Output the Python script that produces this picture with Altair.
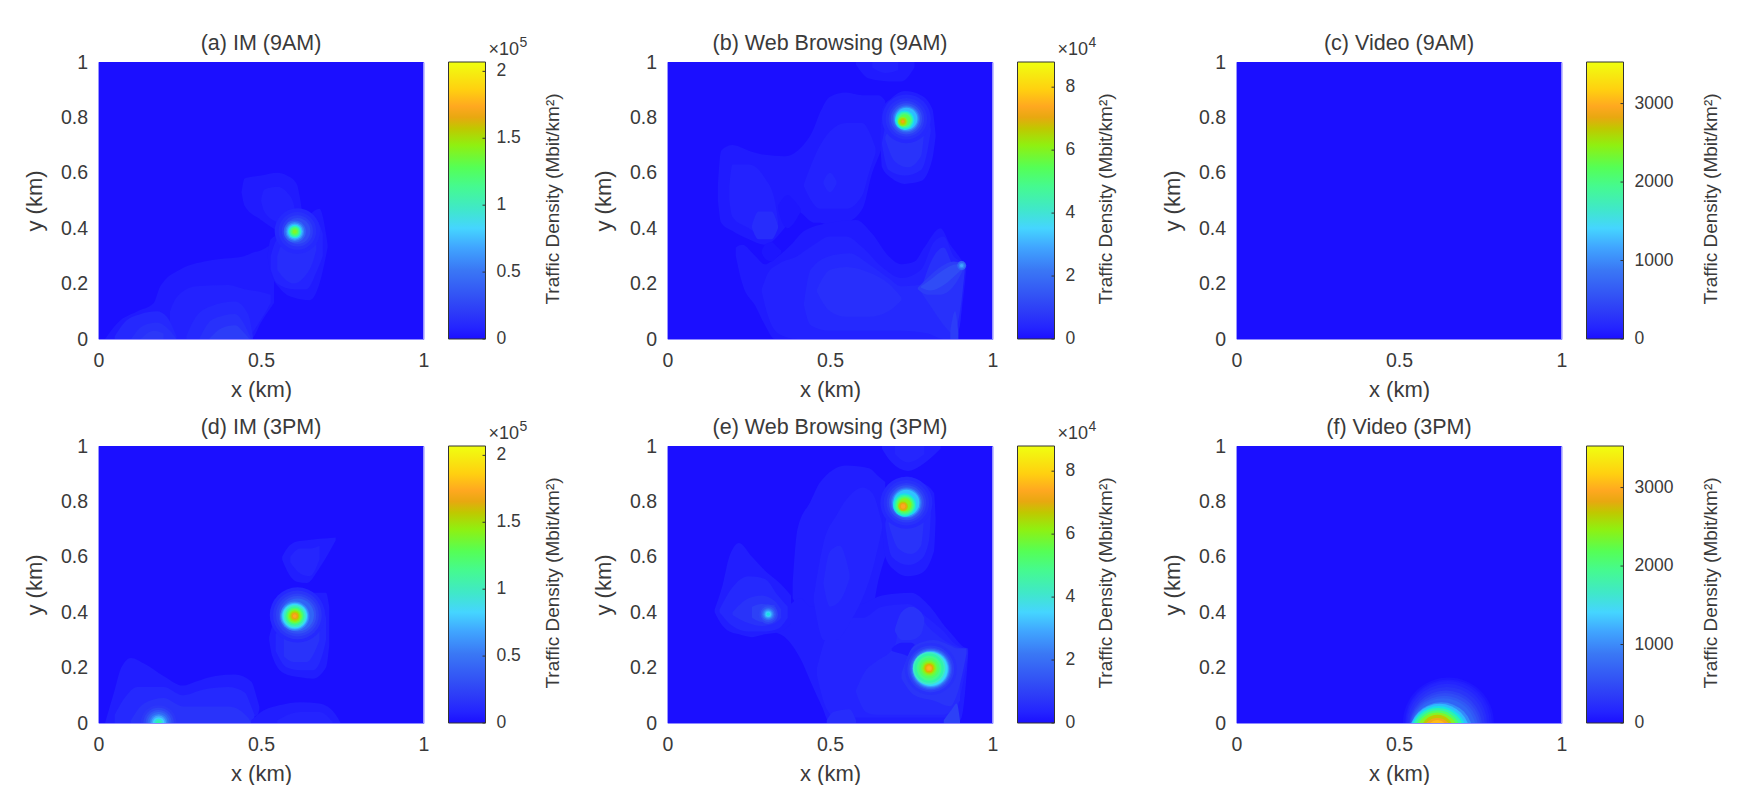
import altair as alt
import pandas as pd

FONT = "Liberation Sans"
INK = "#3a3a3a"

# colour map (fraction of bar height -> colour)
STOPS = [0.0, 0.04, 0.09, 0.15, 0.25, 0.33, 0.40, 0.47, 0.55, 0.62, 0.70, 0.76, 0.80, 0.84, 0.90, 1.0]
COLORS = ["#1b0fff", "#2424ff", "#2c38f8", "#3250f5", "#3a78f5", "#40a5ff", "#45d5ff", "#40e8c8",
          "#45fa90", "#55ff55", "#90f010", "#c0c800", "#e8a810", "#ffa820", "#ffd010", "#f0ff10"]

TITLES = ["(a) IM (9AM)", "(b) Web Browsing (9AM)", "(c) Video (9AM)",
          "(d) IM (3PM)", "(e) Web Browsing (3PM)", "(f) Video (3PM)"]
VMAX = [2.07, 8.8, 3530, 2.07, 8.8, 3530]
TICKS = [[0, 0.5, 1, 1.5, 2], [0, 2, 4, 6, 8], [0, 1000, 2000, 3000],
         [0, 0.5, 1, 1.5, 2], [0, 2, 4, 6, 8], [0, 1000, 2000, 3000]]
EXPONENT = ["5", "4", "", "5", "4", ""]
CB_TITLE_X = [104, 88, 124, 104, 88, 124]
CB_VIEW_W = [194, 194, 135, 194, 194, 135]
AXIS_TICKS = [0, 0.5, 1]
Y_TICKS = [0, 0.2, 0.4, 0.6, 0.8, 1]

# filled regions: (level, [(x, y_low, y_high), ...]) in km; painted in order
BACK = [(0.0, [(0, 0, 1), (1, 0, 1)])]
BLOBS_A = [
    (.02, [(.02,0,0),(.06,0,.06),(.12,0,.1),(.17,0,.13),(.19,0,.19),(.25,0,.25),(.35,0,.285),(.45,0,.3),(.47,0,.31),(.5,.06,.32),(.54,.13,.35)]),
    (.035, [(.22,0,.1),(.24,0,.15),(.3,0,.19),(.4,0,.195),(.45,0,.18),(.5,.07,.17),(.53,.13,.16)]),
    (.05, [(.05,0,.01),(.08,0,.06),(.13,0,.09),(.18,0,.1),(.21,0,.08),(.24,0,.01)]),
    (.05, [(.27,0,.01),(.3,0,.08),(.35,0,.12),(.42,0,.135),(.46,0,.09),(.475,0,.01)]),
    (.07, [(.1,0,0),(.14,0,.05),(.18,0,.06),(.22,0,.03),(.24,0,0)]),
    (.07, [(.31,0,0),(.35,0,.07),(.42,0,.09),(.45,0,.05),(.47,0,0)]),
    (.09, [(.13,0,0),(.17,0,.03),(.2,0,.02)]),
    (.1, [(.34,0,0),(.38,0,.04),(.42,0,.05),(.45,0,.02),(.465,0,0)]),
    (.02, [(.52,.3,.3),(.53,.24,.36),(.56,.18,.38),(.6,.15,.39),(.65,.14,.45),(.68,.2,.47),(.7,.3,.38),(.705,.33,.34)]),
    (.04, [(.53,.25,.3),(.55,.2,.36),(.6,.18,.385),(.64,.18,.41),(.67,.24,.43),(.69,.3,.38)]),
    (.06, [(.55,.25,.3),(.57,.22,.36),(.6,.2,.39),(.63,.22,.4),(.66,.28,.4),(.67,.32,.36)]),
    (.02, [(.44,.53,.53),(.45,.48,.58),(.5,.43,.59),(.55,.39,.6),(.58,.37,.59),(.61,.38,.56),(.62,.42,.51),(.625,.46,.47)]),
    (.035, [(.5,.5,.5),(.51,.46,.54),(.55,.42,.55),(.58,.4,.53),(.6,.42,.49),(.605,.45,.46)]),
]
BLOBS_B = [
    (.02, [(.155,.5,.55),(.165,.42,.68),(.2,.39,.7),(.25,.36,.68),(.3,.34,.665),(.36,.4,.66),(.4,.46,.68),(.45,.42,.76),(.47,.42,.82),(.5,.41,.875),(.55,.42,.89),(.6,.47,.88),(.63,.6,.88),(.65,.66,.88),(.67,.72,.86)]),
    (.02, [(.21,.3,.33),(.23,.2,.34),(.27,.12,.3),(.3,.05,.27),(.33,0,.29),(.38,0,.34),(.42,0,.39),(.5,0,.42),(.58,0,.43),(.63,0,.38),(.68,0,.3),(.72,0,.27),(.76,0,.28),(.79,0,.33),(.84,0,.4),(.87,0,.34),(.89,0,.31),(.905,.1,.285),(.92,.255,.265)]),
    (.035, [(.29,.17,.18),(.31,.08,.24),(.34,.02,.27),(.4,0,.3),(.45,0,.34),(.5,0,.37),(.55,0,.37),(.6,0,.33),(.66,0,.26),(.72,0,.22),(.78,0,.25),(.82,0,.35),(.85,0,.37),(.88,0,.3),(.9,.05,.28),(.91,.2,.265)]),
    (.05, [(.42,.12,.13),(.44,.05,.25),(.5,.03,.3),(.56,.03,.31),(.62,.03,.27),(.68,.03,.22),(.72,.03,.19),(.8,.02,.2),(.85,0,.3),(.88,0,.27),(.895,.1,.26)]),
    (.065, [(.46,.17,.18),(.5,.1,.25),(.55,.08,.26),(.62,.08,.24),(.68,.1,.2),(.72,.14,.15)]),
    (.07, [(.78,.17,.18),(.82,.1,.3),(.85,.05,.33),(.88,.02,.27),(.9,.1,.27),(.915,.25,.27)]),
    (.1, [(.77,.18,.185),(.8,.16,.22),(.84,.16,.26),(.88,.19,.28),(.91,.25,.27)]),
    (.14, [(.78,.185,.19),(.81,.175,.215),(.85,.195,.25),(.89,.235,.27),(.91,.255,.268)]),
    (.1, [(.87,0,.03),(.885,0,.1),(.895,0,.02)]),
    (.01, [(.29,.31,.32),(.3,.29,.34),(.32,.28,.35),(.34,.3,.33),(.35,.31,.32)]),
    (.012, [(.34,.47,.48),(.35,.43,.5),(.37,.4,.52),(.39,.42,.5),(.41,.46,.47)]),
    (.035, [(.19,.5,.55),(.2,.44,.63),(.25,.4,.63),(.3,.37,.58),(.33,.38,.5),(.34,.42,.43)]),
    (.06, [(.26,.4,.41),(.28,.36,.46),(.32,.36,.46),(.34,.4,.41)]),
    (.035, [(.42,.55,.56),(.47,.47,.7),(.5,.47,.75),(.55,.47,.78),(.6,.52,.78),(.62,.6,.75),(.64,.67,.69)]),
    (.05, [(.48,.56,.57),(.5,.53,.6),(.52,.56,.57)]),
    (.025, [(.655,.71,.715),(.66,.62,.83),(.69,.58,.87),(.73,.56,.895),(.78,.57,.88),(.815,.65,.83),(.825,.73,.74)]),
    (.05, [(.66,.7,.71),(.68,.61,.8),(.73,.59,.84),(.78,.61,.85),(.8,.68,.83),(.81,.75,.755)]),
    (.075, [(.67,.72,.73),(.7,.64,.79),(.74,.62,.81),(.78,.66,.82),(.79,.75,.755)]),
    (.02, [(.58,.99,1),(.62,.94,1),(.68,.93,1),(.72,.93,1),(.76,.98,1)]),
    (.035, [(.63,.98,1),(.67,.96,1),(.71,.97,1)]),
]
BLOBS_C = []
BLOBS_D = [
    (.025, [(.02,0,0),(.05,0,.12),(.07,0,.2),(.1,0,.235),(.14,0,.215),(.2,0,.17),(.26,0,.135),(.3,0,.15),(.36,0,.17),(.42,0,.175),(.47,.02,.15),(.49,.03,.08),(.495,.05,.06)]),
    (.05, [(.05,0,.03),(.08,0,.09),(.12,0,.13),(.2,0,.13),(.26,0,.1),(.32,0,.12),(.4,0,.13),(.45,0,.11),(.47,0,.06),(.48,.02,.03)]),
    (.075, [(.1,0,.01),(.14,0,.07),(.2,0,.09),(.26,0,.06),(.33,0,.06),(.4,0,.06),(.46,0,.02),(.47,0,0)]),
    (.025, [(.47,0,.01),(.5,0,.04),(.56,0,.065),(.62,0,.075),(.68,0,.07),(.73,0,.03),(.745,0,0)]),
    (.04, [(.55,0,.01),(.62,0,.04),(.68,0,.04),(.72,0,.005)]),
    (.025, [(.525,.3,.31),(.535,.24,.35),(.57,.18,.39),(.62,.165,.43),(.66,.16,.47),(.7,.2,.47),(.71,.28,.42)]),
    (.05, [(.545,.26,.32),(.58,.2,.37),(.62,.19,.39),(.66,.19,.42),(.69,.25,.42),(.7,.3,.38)]),
    (.075, [(.57,.24,.33),(.6,.22,.36),(.64,.22,.38),(.67,.27,.37),(.68,.3,.35)]),
    (.025, [(.565,.59,.6),(.58,.55,.63),(.61,.51,.655),(.64,.505,.66),(.68,.56,.665),(.73,.66,.67)]),
    (.045, [(.59,.58,.6),(.62,.54,.63),(.65,.53,.63),(.68,.59,.64)]),
]
BLOBS_E = [
    (.025, [(.385,.45,.5),(.4,.42,.7),(.44,.36,.8),(.47,.33,.87),(.55,.33,.93),(.62,.36,.92),(.65,.52,.89),(.67,.6,.87)]),
    (.025, [(.32,.33,.36),(.37,.3,.42),(.41,.23,.45),(.44,.15,.42),(.475,.06,.42),(.5,0,.42),(.55,0,.42),(.6,0,.43),(.66,0,.46),(.75,0,.47),(.8,0,.43),(.86,0,.34),(.89,0,.3),(.905,.02,.28),(.925,.24,.27)]),
    (.025, [(.145,.4,.41),(.17,.35,.5),(.19,.33,.6),(.22,.32,.65),(.26,.31,.6),(.3,.32,.55),(.35,.33,.5),(.38,.36,.46)]),
    (.05, [(.16,.4,.41),(.2,.35,.49),(.25,.33,.53),(.3,.33,.52),(.34,.34,.46),(.37,.38,.42)]),
    (.075, [(.2,.39,.4),(.25,.36,.45),(.29,.35,.46),(.33,.36,.44),(.35,.38,.41)]),
    (.11, [(.26,.38,.42),(.29,.365,.43),(.33,.37,.425)]),
    (.04, [(.46,.17,.2),(.49,.05,.32),(.52,.02,.38),(.6,.02,.38),(.66,.02,.42),(.74,.02,.43),(.8,.02,.38),(.85,.02,.33),(.88,.02,.29),(.91,.15,.27),(.925,.25,.265)]),
    (.055, [(.58,.11,.12),(.61,.04,.19),(.64,.03,.22),(.7,.03,.28),(.72,.03,.4),(.76,.03,.41),(.8,.03,.35),(.85,.03,.3),(.9,.08,.27)]),
    (.075, [(.7,.33,.34),(.72,.3,.4),(.75,.3,.42),(.78,.32,.4),(.79,.36,.38)]),
    (.018, [(.69,.26,.27),(.72,.25,.29),(.75,.24,.29),(.77,.26,.27)]),
    (.06, [(.49,0,.01),(.51,0,.04),(.56,0,.05),(.58,0,.01)]),
    (.08, [(.72,.16,.18),(.76,.1,.28),(.82,.08,.3),(.87,.06,.28),(.89,.1,.27),(.92,.25,.27)]),
    (.11, [(.85,0,.01),(.875,0,.05),(.89,0,.07),(.9,0,.01)]),
    (.04, [(.45,.44,.46),(.48,.3,.65),(.52,.3,.75),(.56,.36,.82),(.6,.45,.85),(.63,.55,.83),(.66,.7,.72)]),
    (.055, [(.48,.5,.51),(.5,.42,.62),(.53,.44,.64),(.56,.52,.54)]),
    (.025, [(.66,.71,.72),(.67,.6,.83),(.7,.55,.875),(.74,.53,.89),(.78,.54,.87),(.82,.62,.83),(.825,.73,.74)]),
    (.05, [(.67,.71,.72),(.69,.6,.82),(.74,.57,.85),(.78,.59,.84),(.805,.66,.82),(.81,.75,.755)]),
    (.075, [(.68,.72,.73),(.71,.63,.79),(.75,.61,.81),(.78,.64,.82),(.79,.75,.755)]),
    (.03, [(.66,.99,1),(.69,.94,1),(.74,.91,1),(.78,.93,1),(.84,.99,1)]),
    (.045, [(.7,.97,1),(.74,.94,1),(.79,.97,1)]),
]
BLOBS_F = []

# concentric round peaks: (x, y, [(radius, level), ...]) in km; painted in order
PEAKS_A = [
    (.612, .39, [(.07,.05),(.058,.07),(.048,.1),(.04,.14)]),
    (.604, .388, [(.034,.2),(.029,.27),(.025,.34),(.021,.42),(.018,.5),(.014,.57),(.01,.63),(.006,.68)]),
]
PEAKS_B = [
    (.905, .265, [(.014,.2),(.009,.27),(.005,.33)]),
    (.735, .795, [(.075,.05),(.064,.07),(.055,.1),(.048,.15),(.042,.21),(.038,.28),(.034,.36)]),
    (.73, .79, [(.03,.43),(.026,.5),(.022,.56),(.018,.62)]),
    (.724, .785, [(.015,.68),(.011,.73),(.007,.78),(.004,.82)]),
]
PEAKS_C = []
PEAKS_D = [
    (.185, .0, [(.055,.09),(.047,.12),(.04,.16),(.034,.21),(.028,.27),(.023,.33),(.018,.39),(.013,.46),(.008,.52)]),
    (.612, .39, [(.085,.05),(.075,.08),(.066,.11),(.058,.15),(.051,.2)]),
    (.604, .386, [(.045,.27),(.041,.34),(.038,.41),(.034,.47),(.03,.53),(.026,.59),(.022,.65),(.018,.7),(.014,.75),(.01,.8),(.006,.84)]),
]
PEAKS_E = [
    (.31, .393, [(.03,.12),(.024,.16),(.019,.22),(.015,.28),(.011,.34),(.008,.39),(.005,.44)]),
    (.735, .795, [(.08,.05),(.07,.07),(.061,.1),(.054,.15),(.048,.21),(.044,.29),(.04,.37)]),
    (.73, .787, [(.036,.44),(.032,.51),(.028,.57),(.024,.63),(.02,.69)]),
    (.725, .782, [(.015,.75),(.011,.8),(.007,.84)]),
    (.81, .195, [(.08,.07),(.072,.1),(.066,.14),(.062,.2),(.058,.27),(.055,.34),(.052,.41)]),
    (.805, .198, [(.05,.47),(.045,.52),(.038,.56),(.032,.6),(.026,.64),(.021,.69),(.017,.74),(.013,.79),(.009,.83),(.006,.86)]),
]
PEAKS_F = [
    (.652, 0, [(.14,.012)]), (.652, 0, [(.134,.025)]), (.65, 0, [(.129,.04)]), (.648, -.003, [(.123,.06)]),
    (.647, -.007, [(.117,.08)]), (.644, -.014, [(.112,.11)]), (.642, -.02, [(.109,.14)]), (.639, -.025, [(.105,.17)]),
    (.636, -.029, [(.101,.2)]), (.63, -.04, [(.098,.28)]), (.625, -.04, [(.093,.36)]), (.622, -.041, [(.087,.44)]),
    (.62, -.042, [(.082,.52)]), (.619, -.038, [(.072,.6)]), (.618, -.037, [(.064,.68)]), (.618, -.029, [(.05,.76)]),
    (.618, -.035, [(.045,.82)]), (.618, -.024, [(.03,.87)]),
]
ALL_BLOBS = [BLOBS_A, BLOBS_B, BLOBS_C, BLOBS_D, BLOBS_E, BLOBS_F]
ALL_PEAKS = [PEAKS_A, PEAKS_B, PEAKS_C, PEAKS_D, PEAKS_E, PEAKS_F]

W, H = 325, 277
color = alt.Color("level:Q", legend=None, scale=alt.Scale(domain=STOPS, range=COLORS))
xs = alt.Scale(domain=[0, 1], nice=False)
ys = alt.Scale(domain=[0, 1], nice=False)


def heat(i):
    rows = []
    for k, (lev, cols) in enumerate(BACK + ALL_BLOBS[i]):
        for x, y0, y1 in cols:
            rows.append({"id": f"b{k:03d}", "level": lev, "x": x, "y0": y0, "y1": y1})
    xax = alt.Axis(values=AXIS_TICKS, format="~g", title="x (km)", grid=False, ticks=False, domain=False,
                   labelFlush=False, labelOverlap=False,
                   labelFontSize=19.5, labelFont=FONT, labelColor=INK, labelPadding=12,
                   titleFontSize=22, titleFont=FONT, titleColor=INK, titleFontWeight="normal", titlePadding=10)
    yax = alt.Axis(values=Y_TICKS, format="~g", title="y (km)", grid=False, ticks=False, domain=False,
                   labelFlush=False, labelOverlap=False,
                   labelFontSize=19.5, labelFont=FONT, labelColor=INK, labelPadding=11,
                   titleFontSize=22, titleFont=FONT, titleColor=INK, titleFontWeight="normal", titlePadding=14)
    areas = alt.Chart(pd.DataFrame(rows)).mark_area(interpolate="monotone", clip=True).encode(
        x=alt.X("x:Q", scale=xs, axis=xax),
        y=alt.Y("y0:Q", scale=ys, axis=yax),
        y2="y1:Q",
        detail="id:N",
        color=color,
    )
    pts = []
    for cx, cy, rings in ALL_PEAKS[i]:
        for r, lev in rings:
            pts.append({"x": cx, "y": cy, "r": r, "level": lev})
    layers = [areas]
    if pts:
        layers.append(
            alt.Chart(pd.DataFrame(pts)).transform_calculate(s="datum.r*datum.r")
            .mark_circle(clip=True, opacity=1).encode(
                x=alt.X("x:Q", scale=xs),
                y=alt.Y("y:Q", scale=ys),
                size=alt.Size("s:Q", legend=None, scale=alt.Scale(domain=[0, 1], range=[0, 4 * W * W])),
                color=color,
                order=alt.Order("level:Q", sort="ascending"),
            ))
    return alt.layer(*layers).properties(
        width=W, height=H,
        view=alt.ViewBackground(stroke="#8f8aff", strokeWidth=1),
        title=alt.TitleParams(TITLES[i], font=FONT, fontSize=21.5, fontWeight="normal", color=INK, offset=-2, anchor="middle"),
    )


def cbar(i):
    vmax = VMAX[i]
    ysc = alt.Scale(domain=[0, vmax], nice=False)
    gradient = alt.Gradient(gradient="linear", x1=0, x2=0, y1=1, y2=0,
                            stops=[alt.GradientStop(offset=s, color=c) for s, c in zip(STOPS, COLORS)])
    df = pd.DataFrame({"lo": [0], "hi": [vmax]})
    bar = alt.Chart(df).mark_rect(color=gradient, stroke="#333333", strokeWidth=1).encode(
        x=alt.value(0), x2=alt.value(37),
        y=alt.Y("lo:Q", scale=ysc, axis=None), y2="hi:Q")
    tk = pd.DataFrame({"v": TICKS[i]})
    ticks = alt.Chart(tk).mark_rule(color="#333333", strokeWidth=1).encode(
        x=alt.value(34), x2=alt.value(37), y=alt.Y("v:Q", scale=ysc, axis=None))
    labels = alt.Chart(tk).mark_text(align="left", baseline="middle", font=FONT, fontSize=17.5, color=INK).encode(
        x=alt.value(48), y=alt.Y("v:Q", scale=ysc, axis=None), text=alt.Text("v:Q", format="~g"))
    title = alt.Chart(pd.DataFrame({"t": ["Traffic Density (Mbit/km²)"]})).mark_text(
        angle=270, align="center", baseline="middle", font=FONT, fontSize=19, color=INK).encode(
        x=alt.value(CB_TITLE_X[i]), y=alt.value(137), text="t:N")
    layers = [bar, ticks, labels, title]
    if EXPONENT[i]:
        base = alt.Chart(pd.DataFrame({"t": ["×10"]})).mark_text(
            align="left", baseline="middle", font=FONT, fontSize=18, color=INK).encode(
            x=alt.value(40), y=alt.value(-12), text="t:N")
        sup = alt.Chart(pd.DataFrame({"t": [EXPONENT[i]]})).mark_text(
            align="left", baseline="middle", font=FONT, fontSize=14, color=INK).encode(
            x=alt.value(71), y=alt.value(-19), text="t:N")
        layers += [base, sup]
    return alt.layer(*layers).properties(width=CB_VIEW_W[i], height=H, view=alt.ViewBackground(stroke=None))


cells = []
for i in range(6):
    cells += [heat(i), cbar(i)]

chart = alt.concat(*cells, columns=6, spacing={"row": 107, "column": 25}, bounds="flush").resolve_scale(
    color="independent", x="independent", y="independent"
).properties(
    padding={"left": 14.5, "top": 24, "right": 0, "bottom": 0}, background="white"
)

chart.save("out.html", embed_options={"renderer": "svg", "actions": False})
